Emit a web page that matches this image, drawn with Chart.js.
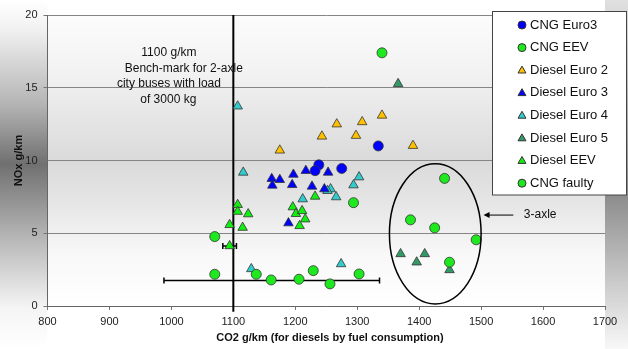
<!DOCTYPE html>
<html>
<head>
<meta charset="utf-8">
<script src="https://cdn.jsdelivr.net/npm/chart.js@4.4.1/dist/chart.umd.min.js"></script>
<style>
html, body { margin: 0; padding: 0; background: #fff; }
canvas { display: block; }
</style>
</head>
<body>
<canvas id="chart" width="628" height="349"></canvas>
<script>
// values: [CO2 g/km, NOx g/km]
var cngEuro3 = [[1334, 11.0], [1238, 9.7], [1232, 9.3], [1275, 9.45]];
var cngEEV = [[1294, 7.1], [1070, 4.77], [1070, 2.18], [1137, 2.18], [1161, 1.79], [1206, 1.84], [1229, 2.43], [1256, 1.52], [1303, 2.2],
              [1441, 8.77], [1386, 5.92], [1425, 5.37], [1492, 4.55], [1449, 3.01]];
var dieselEuro2 = [[1267, 12.5], [1308, 12.65], [1340, 13.1], [1243, 11.66], [1298, 11.71], [1175, 10.7], [1390, 11.02]];
var dieselEuro3 = [[1162, 8.75], [1163, 8.29], [1175, 8.68], [1197, 9.04], [1195, 8.33], [1217, 9.3], [1253, 9.18], [1227, 8.22], [1247, 8.04], [1189, 5.7]];
var dieselEuro4 = [[1107, 13.73], [1116, 9.18], [1303, 8.86], [1294, 8.31], [1257, 8.04], [1252, 7.92], [1266, 7.49], [1212, 7.35], [1129, 2.55], [1274, 2.89]];
var dieselEuro5 = [[1366, 15.27], [1370, 3.58], [1396, 3.01], [1409, 3.58], [1449, 2.48]];
var dieselEEV = [[1107, 6.96], [1107, 6.49], [1124, 6.32], [1094, 5.58], [1115, 5.39], [1196, 6.8], [1201, 6.34], [1211, 6.54], [1216, 5.97], [1207, 5.51], [1232, 7.53], [1094, 4.13]];
var cngFaulty = [[1340, 17.4]];

// error bars: [x, y, half width]
var errorBars = [[1162, 1.76, 174], [1094, 4.13, 11]];
// 1100 g/km bench-mark line
var benchmark = [[1100, -0.4], [1100, 20]];
// 3-axle ellipse: [centre x, centre y, radius x, radius y]
var axleEllipse = [1426, 4.96, 74, 4.82];

var xTicks = [800, 900, 1000, 1100, 1200, 1300, 1400, 1500, 1600, 1700];
var yTicks = [0, 5, 10, 15, 20];

var benchText = ["1100 g/km", "Bench-mark for 2-axle", "city buses with load", "of 3000 kg"];

function pts(arr) {
    return arr.map(function (p) { return { x: p[0], y: p[1] }; });
}

var FONT = "'Liberation Sans', Arial, sans-serif";

function series(label, data, color, style) {
    return {
        label: label,
        data: pts(data),
        pointStyle: style,
        pointRadius: style === "triangle" ? 5.5 : 5,
        pointBackgroundColor: color,
        pointBorderColor: "#333",
        pointBorderWidth: 0.8,
        showLine: false
    };
}

var datasets = [
    series("CNG Euro3", cngEuro3, "#0000ff", "circle"),
    series("CNG EEV", cngEEV, "#1ee81e", "circle"),
    series("Diesel Euro 2", dieselEuro2, "#ffc000", "triangle"),
    series("Diesel Euro 3", dieselEuro3, "#0000ff", "triangle"),
    series("Diesel Euro 4", dieselEuro4, "#33cccc", "triangle"),
    series("Diesel Euro 5", dieselEuro5, "#339966", "triangle"),
    series("Diesel EEV", dieselEEV, "#11ee11", "triangle"),
    series("CNG faulty", cngFaulty, "#1ee81e", "circle"),
    {
        type: "line",
        label: "benchmark",
        data: pts(benchmark),
        borderColor: "#000",
        borderWidth: 2,
        pointRadius: 0,
        clip: false
    }
];

// background shading, error bars, notes and legend
var backgroundPlugin = {
    id: "bg",
    beforeDraw: function (chart) {
        var ctx = chart.ctx, a = chart.chartArea, w = chart.width, h = chart.height;
        ctx.save();
        ctx.fillStyle = "#fff";
        ctx.fillRect(0, 0, w, h);
        var g = ctx.createLinearGradient(0, 0, 0, h);
        g.addColorStop(0, "#ffffff");
        g.addColorStop(0.08, "#f2f2f2");
        g.addColorStop(0.3, "#b4b4b4");
        g.addColorStop(0.47, "#707070");
        g.addColorStop(0.7, "#bcbcbc");
        g.addColorStop(0.88, "#f4f4f4");
        g.addColorStop(1, "#fff");
        ctx.fillStyle = g;
        ctx.fillRect(0, 0, a.left, h);
        g = ctx.createLinearGradient(0, 0, 0, h);
        g.addColorStop(0, "#e0e0e0");
        g.addColorStop(0.55, "#8a8a8a");
        g.addColorStop(0.8, "#c8c8c8");
        g.addColorStop(1, "#f8f8f8");
        ctx.fillStyle = g;
        ctx.fillRect(a.right, 0, w - a.right, h);
        ctx.fillStyle = "#fff";
        ctx.fillRect(a.left, a.bottom, a.right - a.left, h - a.bottom);
        // plot area: light at top and bottom, grey in the middle
        var pg = ctx.createLinearGradient(0, a.top, 0, a.bottom);
        pg.addColorStop(0, "#fcfcfc");
        pg.addColorStop(0.2, "#f2f2f2");
        pg.addColorStop(0.5, "#dadada");
        pg.addColorStop(0.65, "#e6e6e6");
        pg.addColorStop(0.82, "#f8f8f8");
        pg.addColorStop(1, "#ffffff");
        ctx.fillStyle = pg;
        ctx.fillRect(a.left, a.top, a.right - a.left, a.bottom - a.top);
        ctx.restore();
    },
    beforeDatasetsDraw: function (chart) {
        var ctx = chart.ctx, xs = chart.scales.x, ys = chart.scales.y;
        ctx.save();
        ctx.strokeStyle = "#000";
        ctx.lineWidth = 1.5;
        errorBars.forEach(function (e) {
            var x1 = xs.getPixelForValue(e[0] - e[2]);
            var x2 = xs.getPixelForValue(e[0] + e[2]);
            var y = ys.getPixelForValue(e[1]);
            ctx.beginPath();
            ctx.moveTo(x1, y); ctx.lineTo(x2, y);
            ctx.moveTo(x1, y - 3); ctx.lineTo(x1, y + 3);
            ctx.moveTo(x2, y - 3); ctx.lineTo(x2, y + 3);
            ctx.stroke();
        });
        ctx.restore();
    },
    afterDatasetsDraw: function (chart) {
        var ctx = chart.ctx, xs = chart.scales.x, ys = chart.scales.y;
        ctx.save();
        // ellipse round the 3-axle buses
        var cx = xs.getPixelForValue(axleEllipse[0]);
        var cy = ys.getPixelForValue(axleEllipse[1]);
        var rx = xs.getPixelForValue(axleEllipse[0] + axleEllipse[2]) - cx;
        var ry = cy - ys.getPixelForValue(axleEllipse[1] + axleEllipse[3]);
        ctx.strokeStyle = "#000";
        ctx.lineWidth = 1.5;
        ctx.beginPath();
        ctx.ellipse(cx, cy, rx, ry, 0, 0, Math.PI * 2);
        ctx.stroke();
        // arrow + label
        var ay = ys.getPixelForValue(6.25);
        var tip = xs.getPixelForValue(1504);
        var tail = xs.getPixelForValue(1552);
        ctx.lineWidth = 1;
        ctx.beginPath();
        ctx.moveTo(tail, ay); ctx.lineTo(tip + 5, ay);
        ctx.stroke();
        ctx.fillStyle = "#000";
        ctx.beginPath();
        ctx.moveTo(tip, ay); ctx.lineTo(tip + 6, ay - 3); ctx.lineTo(tip + 6, ay + 3);
        ctx.closePath();
        ctx.fill();
        ctx.font = "12px " + FONT;
        ctx.fillStyle = "#111";
        ctx.textBaseline = "middle";
        ctx.textAlign = "left";
        ctx.fillText("3-axle", xs.getPixelForValue(1569), ay);
        // bench-mark text
        ctx.textAlign = "center";
        var bx = [996, 1020, 996, 995];
        var by = [17.42, 16.32, 15.29, 14.19];
        benchText.forEach(function (t, i) {
            ctx.fillText(t, xs.getPixelForValue(bx[i]), ys.getPixelForValue(by[i]));
        });
        ctx.restore();
    },
    afterDraw: function (chart) {
        var ctx = chart.ctx, a = chart.chartArea;
        ctx.save();
        // axis titles
        ctx.fillStyle = "#111";
        ctx.font = "bold 11px " + FONT;
        ctx.textAlign = "center";
        ctx.textBaseline = "middle";
        ctx.fillText("CO2 g/km (for diesels by fuel consumption)", 330, 338);
        ctx.translate(19, (a.top + a.bottom) / 2);
        ctx.rotate(-Math.PI / 2);
        ctx.fillText("NOx g/km", 0, 0);
        ctx.restore();
        // legend box
        ctx.save();
        ctx.fillStyle = "#fff";
        ctx.fillRect(492, 11.5, 135, 183.5);
        ctx.strokeStyle = "#444";
        ctx.lineWidth = 1;
        ctx.strokeRect(492.5, 11.5, 134, 183.5);
        ctx.font = "13px " + FONT;
        ctx.textAlign = "left";
        ctx.textBaseline = "middle";
        chart.data.datasets.slice(0, 8).forEach(function (ds, i) {
            var y = 25 + i * 22.6;
            ctx.fillStyle = ds.pointBackgroundColor;
            ctx.strokeStyle = "#333";
            Chart.helpers.drawPoint(ctx, {
                pointStyle: ds.pointStyle,
                radius: ds.pointStyle === "triangle" ? 4.6 : 4,
                rotation: 0,
                borderWidth: 0.8
            }, 522, ds.pointStyle === "triangle" ? y + 0.5 : y);
            ctx.fillStyle = "#111";
            ctx.fillText(ds.label, 530, y);
        });
        ctx.restore();
    }
};

function plain(v) { return String(v); }

var ctx = document.getElementById("chart").getContext("2d");
var myChart = new Chart(ctx, {
    type: "scatter",
    data: { datasets: datasets },
    options: {
        responsive: false,
        animation: false,
        layout: { padding: { left: 0, top: 15, right: 23, bottom: 0 } },
        plugins: { legend: { display: false }, tooltip: { enabled: false } },
        scales: {
            x: {
                min: 800, max: 1700,
                afterBuildTicks: function (s) { s.ticks = xTicks.map(function (v) { return { value: v }; }); },
                afterFit: function (s) { s.height = 43; },
                grid: { drawOnChartArea: false, drawTicks: true, tickLength: 4, tickColor: "#777" },
                border: { color: "#666", width: 1 },
                ticks: { color: "#222", font: { family: FONT, size: 11 }, padding: 5, maxRotation: 0, callback: plain }
            },
            y: {
                min: 0, max: 20,
                afterBuildTicks: function (s) { s.ticks = yTicks.map(function (v) { return { value: v }; }); },
                afterFit: function (s) { s.width = 47.5; },
                grid: { color: "#858585", drawTicks: true, tickLength: 4, tickColor: "#777" },
                border: { color: "#666", width: 1 },
                ticks: { color: "#222", font: { family: FONT, size: 11 }, padding: 6, callback: plain }
            }
        }
    },
    plugins: [backgroundPlugin]
});
</script>
</body>
</html>
